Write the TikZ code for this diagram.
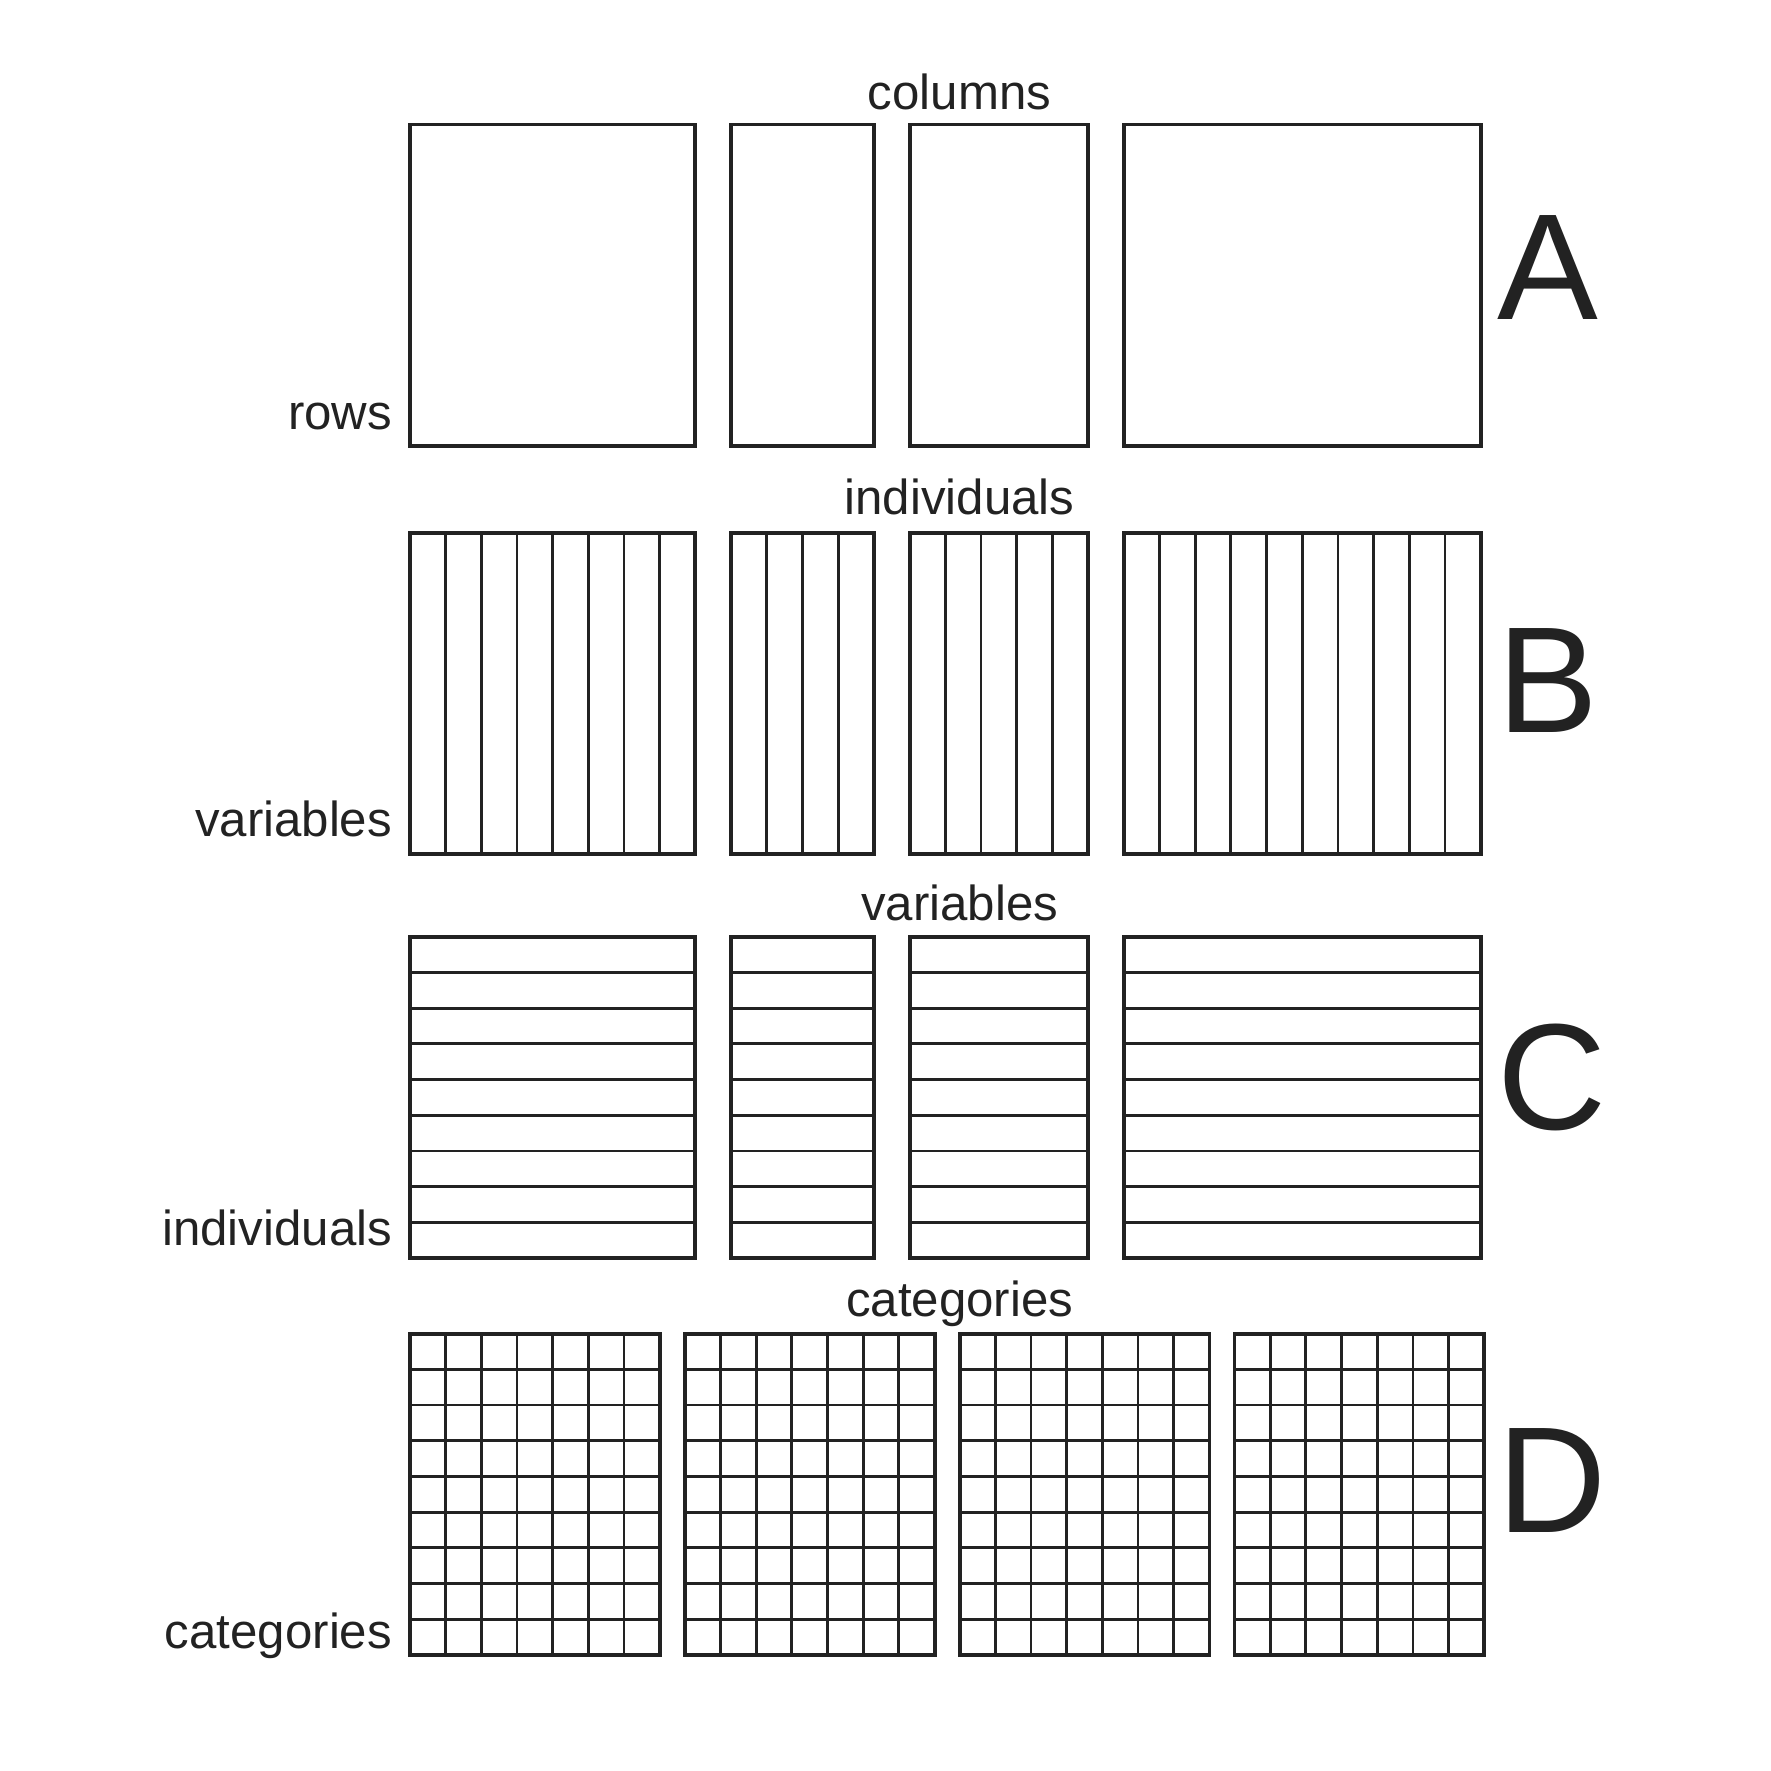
\documentclass[tikz,border=0pt]{standalone}
\usepackage{fontspec}
\setmainfont{Liberation Sans}
\definecolor{ink}{HTML}{222222}
\begin{document}
\begin{tikzpicture}[scale=0.357,line join=miter,
	frame/.style={draw=ink,line width=1.1pt},
	rule/.style={draw=ink,line width=0.8pt},
	tag/.style={text=ink,font=\fontsize{14}{16}\selectfont,inner sep=0pt},
	letter/.style={text=ink,font=\fontsize{43}{48}\selectfont,inner sep=0pt}]
	\useasboundingbox (-11.48,-3.25) rectangle (38.12,46.36);
	% A
	\foreach \x/\w in {0/8,9/4,14/5,20/10}
		\draw[frame] (\x,33.87) rectangle ++(\w,9);
	\node[tag,anchor=base] (colsA) at (15.4,43.29) {columns};
	\node[tag,anchor=base east] (rowsA) at (-0.48,34.32) {rows};
	\node[letter,anchor=base west] (tagA) at (30.45,37.42) {A};
	% B
	\foreach \x/\w in {0/8,9/4,14/5,20/10}{
		\foreach \i in {1,...,\w} \draw[rule] (\x+\i,22.44)--++(0,9);
		\draw[frame] (\x,22.44) rectangle ++(\w,9);}
	\node[tag,anchor=base] (indivB) at (15.4,31.94) {individuals};
	\node[tag,anchor=base east] (varB) at (-0.48,22.92) {variables};
	\node[letter,anchor=base west] (tagB) at (30.45,25.85) {B};
	% C
	\foreach \x/\w in {0/8,9/4,14/5,20/10}{
		\foreach \j in {1,...,8} \draw[rule] (\x,11.12+\j)--++(\w,0);
		\draw[frame] (\x,11.12) rectangle ++(\w,9);}
	\node[tag,anchor=base] (varC) at (15.4,20.57) {variables};
	\node[tag,anchor=base east] (indivC) at (-0.48,11.48) {individuals};
	\node[letter,anchor=base west] (tagC) at (30.45,14.71) {C};
	% D
	\foreach \x in {0,7.7,15.4,23.1}{
		\foreach \i in {1,...,6} \draw[rule] (\x+\i,0)--++(0,9);
		\foreach \j in {1,...,8} \draw[rule] (\x,\j)--++(7,0);
		\draw[frame] (\x,0) rectangle ++(7,9);}
	\node[tag,anchor=base] (catTopD) at (15.4,9.48) {categories};
	\node[tag,anchor=base east] (catD) at (-0.48,0.17) {categories};
	\node[letter,anchor=base west] (tagD) at (30.45,3.42) {D};
\end{tikzpicture}
\end{document}
